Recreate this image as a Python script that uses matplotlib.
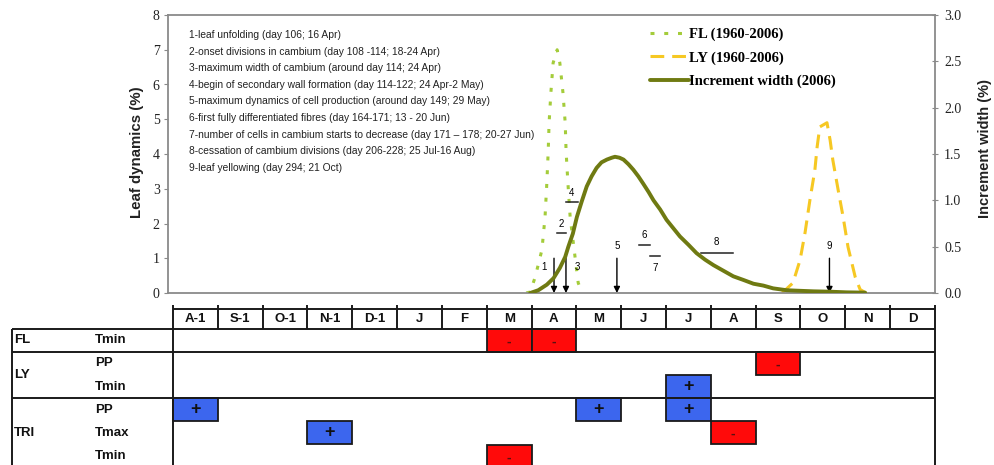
import matplotlib.pyplot as plt
from matplotlib.patches import Rectangle

# month columns, Aug of the previous year to Dec
months = ["A-1", "S-1", "O-1", "N-1", "D-1", "J", "F", "M", "A", "M", "J", "J", "A", "S", "O", "N", "D"]
month_len = [31, 28, 31, 30, 31, 30, 31, 31, 30, 31, 30, 31]

# curves, x in months from 1 Aug of the previous year
fl_x = [7.88, 7.97, 8.08, 8.23, 8.30, 8.34, 8.37, 8.39, 8.43, 8.48, 8.57,
        8.63, 8.70, 8.75, 8.77, 8.81, 8.86, 8.95, 9.04, 9.13]
fl_y = [0.0, 0.03, 0.46, 1.24, 2.19, 3.17, 4.06, 4.89, 5.76, 6.62, 7.0,
        6.62, 5.76, 4.89, 4.06, 3.17, 2.19, 1.24, 0.29, 0.0]

ly_x = [13.59, 13.83, 13.99, 14.10, 14.21, 14.32, 14.37, 14.43, 14.59,
        14.66, 14.72, 14.84, 14.95, 15.06, 15.22, 15.33, 15.46]
ly_y = [0.0, 0.29, 0.95, 1.73, 2.68, 3.54, 4.2, 4.78, 4.9,
        4.4, 3.83, 2.96, 2.19, 1.32, 0.46, 0.1, 0.0]

inc_x = [7.97, 8.15, 8.34, 8.49, 8.63, 8.75, 8.82, 8.92, 9.01, 9.12, 9.23, 9.34,
         9.45, 9.56, 9.68, 9.79, 9.86, 9.96, 10.05, 10.16, 10.27, 10.38, 10.49,
         10.61, 10.72, 10.87, 11.01, 11.16, 11.31, 11.50, 11.68, 11.87, 12.06,
         12.28, 12.50, 12.73, 12.95, 13.17, 13.39, 13.69, 13.92, 14.29, 14.66,
         15.03, 15.44]
inc_y = [0.0, 0.03, 0.09, 0.16, 0.27, 0.39, 0.50, 0.64, 0.82, 0.99, 1.15, 1.26,
         1.35, 1.41, 1.44, 1.46, 1.47, 1.46, 1.44, 1.39, 1.33, 1.26, 1.18,
         1.09, 1.0, 0.90, 0.79, 0.70, 0.61, 0.52, 0.43, 0.36, 0.30,
         0.24, 0.18, 0.14, 0.10, 0.08, 0.05, 0.03, 0.025, 0.018, 0.014,
         0.007, 0.004]

# events (day of year 2006)
arrow_ids = ["1", "3", "5", "9"]
arrow_days = [106, 114, 149, 294]
range_ids = ["2", "4", "6", "7", "8"]
range_days = [(108, 114), (114, 122), (164, 171), (171, 178), (206, 228)]

notes = [
    "1-leaf unfolding (day 106; 16 Apr)",
    "2-onset divisions in cambium (day 108 -114; 18-24 Apr)",
    "3-maximum width of cambium (around day 114; 24 Apr)",
    "4-begin of secondary wall formation (day 114-122; 24 Apr-2 May)",
    "5-maximum dynamics of cell production (around day 149; 29 May)",
    "6-first fully differentiated fibres (day 164-171; 13 - 20 Jun)",
    "7-number of cells in cambium starts to decrease (day 171 \u2013 178; 20-27 Jun)",
    "8-cessation of cambium divisions (day 206-228; 25 Jul-16 Aug)",
    "9-leaf yellowing (day 294; 21 Oct)",
]

# climate response table
groups = ["FL", "LY", "TRI"]
group_rows = [[0], [1, 2], [3, 4, 5]]
row_vars = ["Tmin", "PP", "Tmin", "PP", "Tmax", "Tmin"]
signals = [(0, 7, "-"), (0, 8, "-"), (1, 13, "-"), (2, 11, "+"), (3, 0, "+"),
           (3, 9, "+"), (3, 11, "+"), (4, 3, "+"), (4, 12, "-"), (5, 7, "-")]


def doy_to_x(d):
    m = 0
    while d > month_len[m]:
        d -= month_len[m]
        m += 1
    return 5 + m + (d - 1) / month_len[m]


W, H = 995, 465
fig = plt.figure(figsize=(W / 100, H / 100), dpi=100)

serif = ["Liberation Serif", "DejaVu Serif"]
sans = ["Liberation Sans", "DejaVu Sans"]
gray = "#8a8a8a"

# ---- top panel ----
ax = fig.add_axes([168 / W, 1 - 293 / H, 767 / W, 278 / H])
ax.set_xlim(-0.112, 17)
ax.set_ylim(0, 8)
ax.set_xticks([])
ax.set_yticks(range(9))
for s in ax.spines.values():
    s.set_color(gray)
    s.set_linewidth(1.3)
ax.tick_params(axis="y", direction="out", length=3, color=gray, labelsize=10, pad=3)
for t in ax.get_yticklabels():
    t.set_family(serif)
    t.set_color("#222222")

ax2 = ax.twinx()
ax2.set_ylim(0, 3)
ax2.set_yticks([0, 0.5, 1, 1.5, 2, 2.5, 3])
ax2.set_yticklabels(["%.1f" % v for v in [0, 0.5, 1, 1.5, 2, 2.5, 3]])
for s in ax2.spines.values():
    s.set_visible(False)
ax2.tick_params(axis="y", direction="inout", length=5, color=gray, labelsize=10, pad=4)
for t in ax2.get_yticklabels():
    t.set_family(serif)
    t.set_color("#222222")

l1, = ax.plot(fl_x, fl_y, color="#a4cc3a", lw=2.2, ls=(0, (1.3, 3.2)))
l2, = ax.plot(ly_x, ly_y, color="#f6c823", lw=2.2, ls=(0, (4.5, 2.6)))
l3, = ax2.plot(inc_x, inc_y, color="#6f7a12", lw=2.8,
               solid_capstyle="round", solid_joinstyle="round")

# arrows for single-day events
arrow_top = 1.0
for k, d in zip(arrow_ids, arrow_days):
    x = doy_to_x(d)
    ax.annotate("", xy=(x, 0), xytext=(x, arrow_top),
                arrowprops=dict(arrowstyle="-|>", color="k", lw=1.0,
                                shrinkA=0, shrinkB=0, mutation_scale=9))
    if k == "1":
        ax.text(x - 0.22, 0.75, k, fontsize=7, ha="center", va="center", family=sans)
    elif k == "3":
        ax.text(x + 0.25, 0.75, k, fontsize=7, ha="center", va="center", family=sans)
    else:
        ax.text(x, arrow_top + 0.35, k, fontsize=7, ha="center", va="center", family=sans)

# bars for periods
bar_levels = [1.73, 2.62, 1.38, 1.06, 1.15]
label_dy = [0.25, 0.27, 0.28, -0.35, 0.32]
for k, (d0, d1), yb, dy in zip(range_ids, range_days, bar_levels, label_dy):
    x0, x1 = doy_to_x(d0), doy_to_x(d1)
    ax.plot([x0, x1], [yb, yb], color="#222222", lw=1.1)
    ax.text((x0 + x1) / 2, yb + dy, k, fontsize=7, ha="center", va="center", family=sans)

for i, line in enumerate(notes):
    fig.text(189 / W, 1 - (35 + 16.6 * i) / H, line, fontsize=7.4, va="center",
             family=sans, color="#222222")

leg = ax.legend([l1, l2, l3], ["FL (1960-2006)", "LY (1960-2006)", "Increment width (2006)"],
                loc="upper left", bbox_to_anchor=(650 / W, 1 - 28 / H),
                bbox_transform=fig.transFigure, frameon=False, borderpad=0,
                borderaxespad=0, handlelength=2.7, handletextpad=0.0, labelspacing=0.67,
                prop={"family": serif, "weight": "bold", "size": 10.5})

fig.text(137 / W, 1 - 152 / H, "Leaf dynamics (%)", rotation=90, ha="center", va="center",
         fontsize=10.8, fontweight="bold", family=sans, color="#222222")
fig.text(985 / W, 1 - 148 / H, "Increment width (%)", rotation=90, ha="center", va="center",
         fontsize=10.5, fontweight="bold", family=sans, color="#222222")

# ---- table ----
tb = fig.add_axes([0, 0, 1, 169 / H])
tb.set_xlim(-173 / 44.82, (W - 173) / 44.82)
tb.set_ylim((465 - 328.5) / 23.2, (296 - 328.5) / 23.2)
tb.axis("off")

lk = dict(color="#1a1a1a", lw=1.4, solid_capstyle="butt", clip_on=False)
n = len(months)
left = -161 / 44.82
head_top = -20 / 23.2
tick_top = -24 / 23.2
bottom = 6.2
tb.plot([0, n], [head_top, head_top], **lk)
for y in [0, 1, 3]:
    tb.plot([left, n], [y, y], **lk)
tb.plot([left, left], [0, bottom], **lk)
tb.plot([0, 0], [tick_top, bottom], **lk)
tb.plot([n, n], [tick_top, bottom], **lk)
for i in range(1, n):
    tb.plot([i, i], [tick_top, 0], **lk)
for i, m in enumerate(months):
    tb.text(i + 0.5, head_top / 2, m, ha="center", va="center", fontsize=9.5,
            fontweight="bold", family=sans, color="#111111")

for g, rows in zip(groups, group_rows):
    yc = (rows[0] + rows[-1] + 1) / 2
    tb.text(left + 0.05, yc, g, ha="left", va="center", fontsize=9.5,
            fontweight="bold", family=sans, color="#111111")
for r, v in enumerate(row_vars):
    tb.text(-1.74, r + 0.5, v, ha="left", va="center", fontsize=9.5,
            fontweight="bold", family=sans, color="#111111")

for r, c, sign in signals:
    fc = "#3c66ee" if sign == "+" else "#ff0a0a"
    tb.add_patch(Rectangle((c, r), 1, 1, facecolor=fc, edgecolor="#1a1a1a", lw=1.3))
    if sign == "+":
        tb.text(c + 0.5, r + 0.5, "+", ha="center", va="center", fontsize=13,
                fontweight="bold", family=sans, color="#111111")
    else:
        tb.text(c + 0.5, r + 0.55, "-", ha="center", va="center", fontsize=10,
                fontweight="bold", family=sans, color="#5a1010")

fig.savefig("out.png", dpi=100)
